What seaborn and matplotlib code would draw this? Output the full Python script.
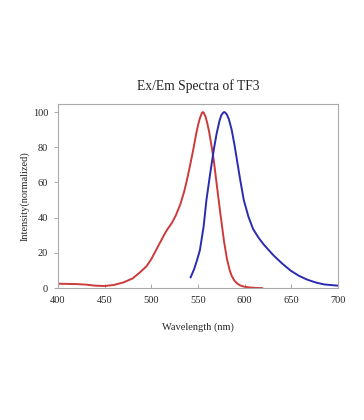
import matplotlib
matplotlib.use("Agg")
import matplotlib.pyplot as plt
import seaborn as sns
import pandas as pd

ex_wl = [400, 410, 420, 430, 440, 450, 460, 470, 480, 488, 495, 500, 505, 510, 515, 518, 522, 526, 531, 535, 538, 542, 545, 548, 550, 552, 554, 555, 556, 558, 560, 562, 565, 567, 570, 574, 578, 581, 584, 586, 589, 592, 595, 598, 602, 605, 612, 619]
ex_int = [2.5, 2.4, 2.3, 2.0, 1.4, 1.2, 1.8, 3.2, 5.5, 9.0, 12.5, 16.5, 21.5, 26.5, 31.5, 34.0, 37.0, 41.0, 47.5, 54.5, 61.0, 71.0, 79.0, 87.5, 92.5, 96.5, 99.3, 100.0, 99.7, 97.5, 93.5, 88.5, 79.0, 72.0, 59.0, 42.0, 26.0, 16.5, 10.0, 7.0, 4.2, 2.6, 1.6, 1.0, 0.6, 0.4, 0.1, 0.0]

em_wl = [542, 546, 549, 552, 556, 559, 563, 567, 570, 573, 575, 577, 578, 579, 581, 583, 586, 589, 591, 595, 599, 604, 609, 615, 620, 625, 631, 640, 649, 658, 667, 676, 685, 693, 700]
em_int = [6.0, 11.0, 16.0, 21.5, 35.0, 50.0, 65.0, 79.0, 88.0, 95.0, 98.3, 99.7, 100.0, 99.8, 98.5, 96.0, 90.0, 81.5, 75.0, 62.0, 50.0, 40.5, 33.5, 28.5, 25.0, 22.0, 18.5, 14.0, 10.0, 7.0, 4.8, 3.2, 2.1, 1.7, 1.4]

x_ticks = [400, 450, 500, 550, 600, 650, 700]
y_ticks = [0, 20, 40, 60, 80, 100]

ex_df = pd.DataFrame({"wl": ex_wl, "val": ex_int})
em_df = pd.DataFrame({"wl": em_wl, "val": em_int})

sns.set_theme(style="white")
plt.rcParams["font.family"] = ["Liberation Serif", "DejaVu Serif"]

fig = plt.figure(figsize=(3.64, 4.2), dpi=100)
ax = fig.add_axes([0.159, 0.314, 0.77, 0.438])

sns.lineplot(data=ex_df, x="wl", y="val", ax=ax, color="#cc3b3b", linewidth=1.4)
sns.lineplot(data=em_df, x="wl", y="val", ax=ax, color="#2b2bb0", linewidth=1.4)

ax.set_xlim(400, 700)
ax.set_ylim(0, 104.5)
ax.set_xticks(x_ticks)
ax.set_yticks(y_ticks)
ax.tick_params(axis="x", direction="in", length=3, width=0.6, color="#999999", labelsize=7.5, pad=6)
ax.tick_params(axis="y", direction="out", length=3, width=0.6, color="#999999", labelsize=7.5, pad=4)
ax.tick_params(bottom=True, left=True)
for s in ax.spines.values():
    s.set_color("#aaaaaa")
    s.set_linewidth(0.8)

ax.set_title("Ex/Em Spectra of TF3", fontsize=9.8, pad=10)
ax.set_xlabel("Wavelength (nm)", fontsize=7.5, labelpad=12)
ax.set_ylabel("Intensity(normalized)", fontsize=7.5, labelpad=2)

fig.savefig("out.png", dpi=100)
